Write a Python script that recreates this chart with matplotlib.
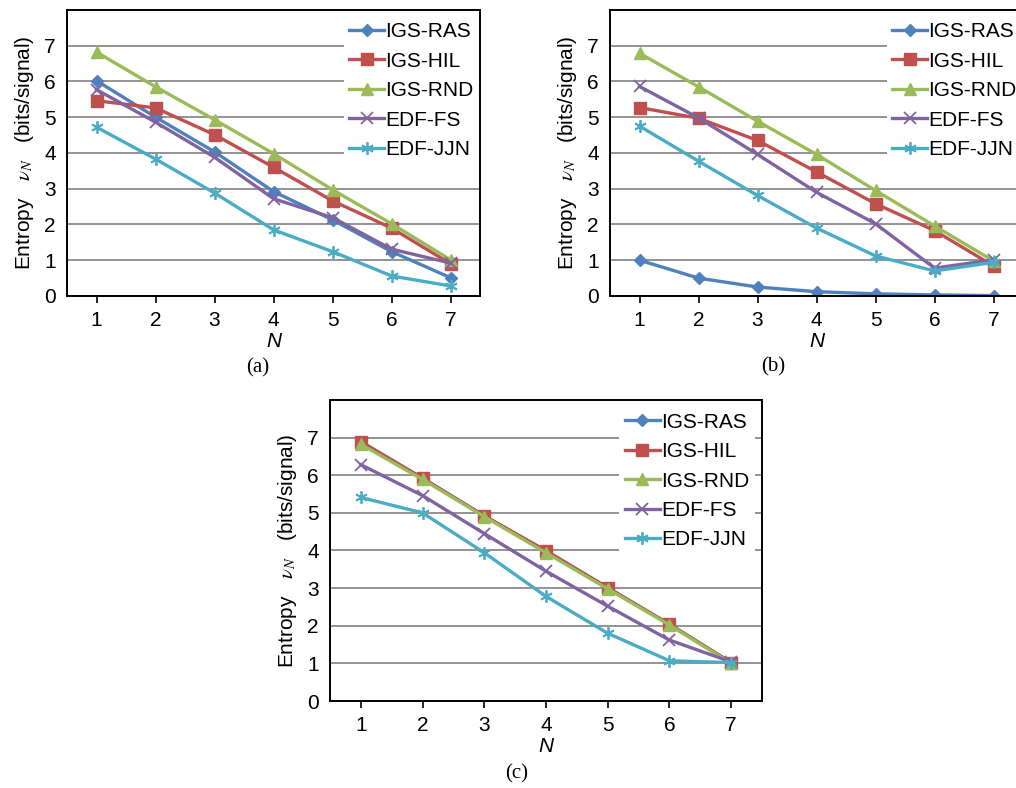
import numpy as np
import matplotlib
matplotlib.use("Agg")
import matplotlib.pyplot as plt

plt.rcParams['font.family'] = ['Liberation Sans', 'DejaVu Sans']
plt.rcParams['mathtext.fontset'] = 'stix'

# the N values on the x axis
n_vals = [1, 2, 3, 4, 5, 6, 7]
series_names = ['IGS-RAS', 'IGS-HIL', 'IGS-RND', 'EDF-FS', 'EDF-JJN']

# panel (a)
a_ras = [6.02, 5.0, 4.03, 2.92, 2.13, 1.24, 0.51]
a_hil = [5.46, 5.26, 4.51, 3.6, 2.66, 1.9, 0.9]
a_rnd = [6.82, 5.85, 4.93, 3.98, 2.97, 2.02, 1.01]
a_fs = [5.77, 4.86, 3.88, 2.72, 2.19, 1.31, 0.92]
a_jjn = [4.72, 3.83, 2.88, 1.85, 1.24, 0.56, 0.28]

# panel (b)
b_ras = [1.0, 0.5, 0.25, 0.12, 0.06, 0.03, 0.01]
b_hil = [5.27, 4.97, 4.35, 3.47, 2.58, 1.83, 0.84]
b_rnd = [6.79, 5.85, 4.89, 3.96, 2.95, 1.96, 0.98]
b_fs = [5.86, 4.98, 3.96, 2.9, 2.02, 0.78, 1.01]
b_jjn = [4.75, 3.77, 2.81, 1.9, 1.12, 0.7, 0.94]

# panel (c) - RAS sits right under HIL so you cant see it
c_ras = [6.89, 5.92, 4.92, 3.99, 3.01, 2.04, 1.02]
c_hil = [6.89, 5.92, 4.92, 3.99, 3.01, 2.04, 1.02]
c_rnd = [6.82, 5.89, 4.9, 3.94, 2.98, 2.02, 1.0]
c_fs = [6.28, 5.46, 4.45, 3.45, 2.52, 1.62, 1.04]
c_jjn = [5.41, 5.0, 3.94, 2.78, 1.8, 1.07, 1.02]

y_ticks = [0, 1, 2, 3, 4, 5, 6, 7]
captions = ['(a)', '(b)', '(c)']

# excel 2007 looking colours + markers
colors = ['#4F81BD', '#C0504D', '#9BBB59', '#8064A2', '#4BACC6']
markers = ['D', 's', '^', 'x', (6, 2, 0)]
msizes = [6, 8.5, 8.5, 8, 9]

FS = 15

fig = plt.figure(figsize=(10.16, 7.88), dpi=100)


def draw_panel(rect, data, caption, cap_xy):
    ax = fig.add_axes(rect)
    for i, ys in enumerate(data):
        mew = 1.3 if i >= 3 else 1
        ax.plot(n_vals, ys, color=colors[i], lw=2.4, marker=markers[i],
                markersize=msizes[i], markeredgewidth=mew,
                markerfacecolor=colors[i], markeredgecolor=colors[i],
                label=series_names[i], zorder=3)
    ax.set_xlim(0.5, 7.5)
    ax.set_ylim(0, 8)
    ax.set_xticks(n_vals)
    ax.set_yticks(y_ticks)
    ax.yaxis.grid(True, color='#8a8a8a', lw=1.3)
    ax.set_axisbelow(True)
    ax.tick_params(axis='x', length=5, width=1.2, direction='out', labelsize=FS, pad=6)
    ax.tick_params(axis='y', length=0, labelsize=FS, pad=8)
    for sp in ax.spines.values():
        sp.set_linewidth(1.4)
        sp.set_color('black')
        sp.set_zorder(10)  # keep frame above the legend box
    ax.set_xlabel('N', fontsize=FS, style='italic', labelpad=1)
    ax.set_ylabel(r'Entropy   $\nu_N$   (bits/signal)', fontsize=FS, labelpad=6)
    leg = ax.legend(loc='upper left', bbox_to_anchor=(0.67, 0.975), fontsize=FS,
                    frameon=True, fancybox=False, handlelength=1.7,
                    handletextpad=0.05, labelspacing=0.5, borderpad=0.25,
                    borderaxespad=0)
    leg.get_frame().set_facecolor('white')
    leg.get_frame().set_edgecolor('none')
    leg.get_frame().set_alpha(1)
    fig.text(cap_xy[0], cap_xy[1], caption, family='Liberation Serif', fontsize=FS,
             ha='center', va='center')
    return ax


draw_panel([0.066, 0.6244, 0.4065, 0.363], [a_ras, a_hil, a_rnd, a_fs, a_jjn],
           captions[0], (258 / 1016, 1 - 368 / 788))
draw_panel([0.6004, 0.6244, 0.4065, 0.363], [b_ras, b_hil, b_rnd, b_fs, b_jjn],
           captions[1], (773 / 1016, 1 - 367 / 788))
draw_panel([0.3248, 0.1104, 0.4252, 0.382], [c_ras, c_hil, c_rnd, c_fs, c_jjn],
           captions[2], (517 / 1016, 1 - 774 / 788))

fig.savefig('out.png', dpi=100)
